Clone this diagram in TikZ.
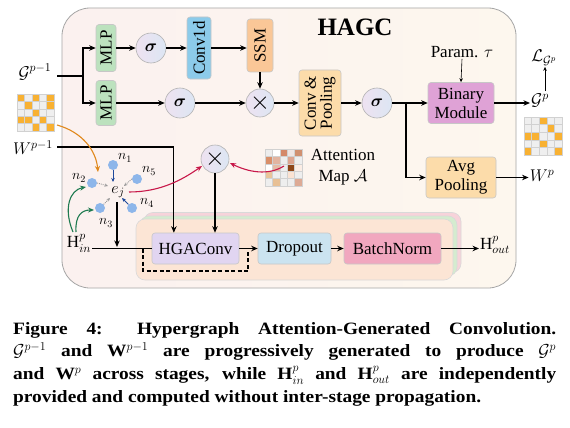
\RequirePackage{fix-cm}
\documentclass[tikz,border=0pt]{standalone}
\usepackage{fontspec}
\setmainfont{Liberation Serif}
\newfontfamily\capfont[FakeStretch=1.12]{Liberation Serif}
\usepackage{amsmath}
\usetikzlibrary{arrows.meta,calc}
\definecolor{bgl}{HTML}{FBF1EF}
\definecolor{bgr}{HTML}{FDF7EE}
\definecolor{mlpg}{HTML}{BCE2BE}
\definecolor{convb}{HTML}{8CCBEA}
\definecolor{ssmo}{HTML}{FAC797}
\definecolor{poolo}{HTML}{FCDCAA}
\definecolor{binp}{HTML}{DFA2D6}
\definecolor{hgacp}{HTML}{E1D5F1}
\definecolor{dropb}{HTML}{CBE3F0}
\definecolor{bnp}{HTML}{F1A7BF}
\definecolor{circl}{HTML}{EEE2F1}
\definecolor{circr}{HTML}{DCE6F3}
\definecolor{gorange}{HTML}{F8B132}
\definecolor{cellgray}{HTML}{EFEFEF}
\definecolor{curveor}{HTML}{E0881C}
\definecolor{crimson}{HTML}{C8184A}
\definecolor{dgreen}{HTML}{1E7A50}
\definecolor{nodeblue}{HTML}{8DB6EA}
\definecolor{dblue}{HTML}{1F4A9C}
\definecolor{stpink}{HTML}{F7D3DA}
\definecolor{stgreen}{HTML}{D5ECCF}
\definecolor{stpeach}{HTML}{FCE5D5}
\tikzset{
 arr/.style={line width=1.1pt, -{Stealth[length=6.5pt,width=5.5pt]}},
 ln/.style={line width=1.1pt},
 thinarr/.style={line width=0.6pt, -{Stealth[length=4pt,width=3.5pt]}},
 blk/.style={draw=black!22, line width=0.6pt, rounded corners=3pt, inner sep=0pt, font=\fontsize{17}{19}\selectfont, align=center},
 circnode/.style={circle, draw=black!30, line width=0.6pt, left color=circl, right color=circr, minimum size=30pt, inner sep=0pt, font=\fontsize{17}{17}\selectfont},
 lab/.style={font=\fontsize{17}{19}\selectfont, inner sep=1pt, align=center},
 hn/.style={circle, fill=nodeblue, minimum size=10pt, inner sep=0pt},
 nlab/.style={font=\fontsize{14}{14}\selectfont, inner sep=0pt},
 cell/.style={draw=black!18, line width=0.4pt},
 stackbox/.style={rounded corners=9pt, line width=0.6pt, minimum width=317pt, minimum height=60pt},
 gdot/.style={gray!80, densely dotted, line width=0.9pt, -{Stealth[length=3.5pt,width=3.2pt]}},
 barr/.style={dblue, line width=1pt, -{Stealth[length=4pt,width=3.5pt]}},
}
\begin{document}
\begin{tikzpicture}[x=1pt,y=-1pt]
\useasboundingbox (0,0) rectangle (570,428);
\fill[white] (0,0) rectangle (570,428);
% main box
\node[draw=black!35, line width=0.8pt, rounded corners=28pt, minimum width=454pt, minimum height=280pt, left color=bgl, right color=bgr] (hagc) at (289,148) {};
\node[font=\bfseries\fontsize{25}{25}\selectfont, inner sep=0pt] (title) at (355,27) {HAGC};
% stack boxes
\node[stackbox, fill=stpink, draw=black!15] (stp) at (302.5,242.5) {};
\node[stackbox, fill=stgreen, draw=black!15] (stg) at (298.5,246) {};
\node[stackbox, fill=stpeach, draw=black!15, minimum height=61pt] (sto) at (294.5,249.5) {};
% top blocks
\node[blk, fill=mlpg, minimum width=20pt, minimum height=47pt] (mlp1) at (106,48) {\rotatebox{90}{MLP}};
\node[blk, fill=mlpg, minimum width=20pt, minimum height=45pt] (mlp2) at (106,103) {\rotatebox{90}{MLP}};
\node[circnode] (s1) at (151,48) {$\boldsymbol{\sigma}$};
\node[blk, fill=convb, minimum width=24pt, minimum height=62pt] (conv) at (199,48) {\rotatebox{90}{Conv1d}};
\node[blk, fill=ssmo, minimum width=26pt, minimum height=53pt] (ssm) at (260,45.5) {\rotatebox{90}{SSM}};
\node[circnode, minimum size=28pt] (x1) at (260,103) {\scalebox{1.5}{$\times$}};
\node[circnode] (s2) at (180,103) {$\boldsymbol{\sigma}$};
\node[blk, fill=poolo, minimum width=42pt, minimum height=66pt] (cp) at (320,103) {\rotatebox{90}{\begin{tabular}{@{}c@{}}Conv \&\\[-3pt]Pooling\end{tabular}}};
\node[circnode] (s3) at (377,103) {$\boldsymbol{\sigma}$};
\node[blk, fill=binp, minimum width=66pt, minimum height=41pt] (bin) at (461,103) {Binary\\Module};
\node[blk, fill=poolo, minimum width=70pt, minimum height=41pt] (avg) at (461,177.5) {Avg\\Pooling};
\node[lab] (par) at (462,52) {Param. $\tau$};
% outputs
\node[lab] (gp) at (540,101) {$\mathcal{G}^{p}$};
\node[lab] (lgp) at (544,58) {$\mathcal{L}_{\mathcal{G}^{p}}$};
\node[lab] (wp) at (542,176) {$W^{p}$};
% inputs
\node[lab] (g1) at (35,72) {$\mathcal{G}^{p-1}$};
\node[lab] (w1) at (33,148) {$W^{p-1}$};
\node[lab] (hin) at (79,243) {$\mathrm{H}^{p}_{in}$};
\node[lab] (hout) at (495,245) {$\mathrm{H}^{p}_{out}$};
% grids
\node[minimum size=37pt, inner sep=0pt] (gridL) at (35.5,112.5) {};
\foreach \r in {0,...,4} \foreach \c in {0,...,4}
  \draw[cell, fill=cellgray] ({17+\c*7.4},{94+\r*7.4}) rectangle ++(7.4,7.4);
\foreach \c/\r in {0/0,2/0,4/0,1/1,4/1,2/2,0/3,1/3,3/3,2/4,4/4}
  \draw[cell, fill=gorange] ({17+\c*7.4},{94+\r*7.4}) rectangle ++(7.4,7.4);
\node[minimum size=38pt, inner sep=0pt] (gridR) at (543,136) {};
\foreach \r in {0,...,4} \foreach \c in {0,...,4}
  \draw[cell, fill=cellgray] ({524+\c*7.6},{117+\r*7.6}) rectangle ++(7.6,7.6);
\foreach \c/\r in {2/0,3/1,0/2,1/2,4/2,2/3,0/4,4/4}
  \draw[cell, fill=gorange] ({524+\c*7.6},{117+\r*7.6}) rectangle ++(7.6,7.6);
\node[minimum size=37pt, inner sep=0pt] (gridA) at (283.5,167.5) {};
\foreach \r/\c/\col in {0/0/EDEDED,0/1/FFFFFF,0/2/D4896A,0/3/EFE6E4,0/4/D09070,
  1/0/D98F6A,1/1/E2B4A0,1/2/EEEEEE,1/3/DDA590,1/4/EEEEEE,
  2/0/FFFFFF,2/1/E5BBA5,2/2/EEEEEE,2/3/8E4618,2/4/FBEDE5,
  3/0/E9C49A,3/1/EEEEEE,3/2/EEEEEE,3/3/FBE3D3,3/4/EEEEEE,
  4/0/EEEEEE,4/1/E8C095,4/2/EEEEEE,4/3/EEEEEE,4/4/DDAA95}
  {\definecolor{tmpc}{HTML}{\col}
   \draw[cell, fill=tmpc] ({265+\c*7.4},{149+\r*7.4}) rectangle ++(7.4,7.4);}
\node[lab, font=\fontsize{17}{21}\selectfont] (att) at (343,167) {Attention\\Map $\mathcal{A}$};
% hypergraph
\node[hn] (n1) at (113,165) {};
\node[hn] (n2) at (92,183) {};
\node[hn] (n3) at (100,208) {};
\node[hn] (n4) at (132,208) {};
\node[hn] (n5) at (137,179) {};
\node[nlab] (l1) at (125,158) {$n_1$};
\node[nlab] (l2) at (79,178) {$n_2$};
\node[nlab] (l3) at (106,223) {$n_3$};
\node[nlab] (l4) at (147,203) {$n_4$};
\node[nlab] (l5) at (149,171) {$n_5$};
\node[font=\fontsize{16}{16}\selectfont, inner sep=0pt] (ej) at (118,192) {$e_j$};
\node[circnode, minimum size=28pt] (x2) at (215,159) {\scalebox{1.5}{$\times$}};
% bottom blocks
\node[blk, fill=hgacp, minimum width=87pt, minimum height=31pt] (hgac) at (195.5,248.5) {HGAConv};
\node[blk, fill=dropb, minimum width=73pt, minimum height=31pt] (drop) at (294.5,248.5) {Dropout};
\node[blk, fill=bnp, minimum width=97pt, minimum height=31pt] (bn) at (392.5,248.5) {BatchNorm};
% top connectors
\coordinate (g1out) at (57,76);
\coordinate (br1) at (83,76);
\draw[ln] (g1out) -- (br1);
\draw[arr] (br1) |- (mlp1.west);
\draw[arr] (br1) |- (mlp2.west);
\draw[arr] (mlp1.east) -- (s1.west);
\draw[arr] (s1.east) -- (conv.west);
\draw[arr] (conv.east) -- (conv.east -| ssm.west);
\draw[arr] (ssm.south) -- (x1.north);
\draw[arr] (mlp2.east) -- (s2.west);
\draw[arr] (s2.east) -- (x1.west);
\draw[arr] (x1.east) -- (cp.west);
\draw[arr] (cp.east) -- (s3.west);
\draw[arr] (s3.east) -- (bin.west);
\coordinate (br2) at (406,103);
\draw[arr] (br2) |- (avg.west);
\draw[arr] (bin.east) -- (bin.east -| gp.west);
\draw[arr] (avg.east) -- (avg.east -| wp.west);
\draw[thinarr] (par.south) -- (bin.north);
\draw[thinarr] (545,91) -- (lgp.south -| 545,0);
% W input
\coordinate (w1out) at (57,147);
\draw[arr] (w1out) -| ($(hgac.north west)!0.253!(hgac.north east)$);
\draw[arr] (x2.south) -- (x2.south |- hgac.north);
% orange
\draw[curveor, line width=1.1pt, -{Stealth[length=6pt,width=5pt]}] (57,125) .. controls (82,132) and (96,150) .. (98,172);
% hyperedge arrows
\draw[barr] (n1.south) -- (113,182);
\draw[barr] (n4.north west) -- (122,198);
\draw[gdot] (n2.east) -- (108,186);
\draw[gdot] (n3.north east) -- (110,198);
\draw[gdot] (n5.west) -- (124,186);
% green
\draw[dgreen, line width=1.1pt, -{Stealth[length=6pt,width=5pt]}] (73,232) .. controls (63,208) and (70,190) .. (86,187);
\draw[dgreen, line width=1.1pt, -{Stealth[length=6pt,width=5pt]}] (76,232) .. controls (75,215) and (82,210) .. (94,210);
% crimson
\draw[crimson, line width=1.1pt, -{Stealth[length=6pt,width=5pt]}] (129,192) .. controls (160,192) and (182,180) .. (202,166);
\draw[crimson, line width=1.1pt, -{Stealth[length=6pt,width=5pt]}] (284,166) .. controls (268,176) and (248,172) .. (230,163);
% bottom
\coordinate (hinl) at (117,247);
\draw[arr] (117,202) -- (hinl);
\draw[ln] (hin.east |- hgac.west) -- (hgac.west);
\draw[line width=1.1pt, dash pattern=on 4pt off 2.5pt] (143,248.5) |- (248,271) -- (248,249.5);
\draw[arr] (hgac.east) -- (drop.west);
\draw[arr] (drop.east) -- (bn.west);
\draw[arr] (bn.east) -- (bn.east -| hout.west);
% caption
\node[anchor=north west, inner sep=0pt, text width=543pt, align=justify, font=\capfont\bfseries\fontsize{17.3}{22.6}\selectfont] (cap) at (13,322) {Figure 4: Hypergraph Attention-Generated Convolution.\linebreak $\mathcal{G}^{p-1}$ and W$^{p-1}$ are progressively generated to produce $\mathcal{G}^{p}$\linebreak and W$^{p}$ across stages, while H$^{p}_{in}$ and H$^{p}_{out}$ are independently\linebreak provided and computed without inter-stage propagation.};
\end{tikzpicture}
\end{document}
